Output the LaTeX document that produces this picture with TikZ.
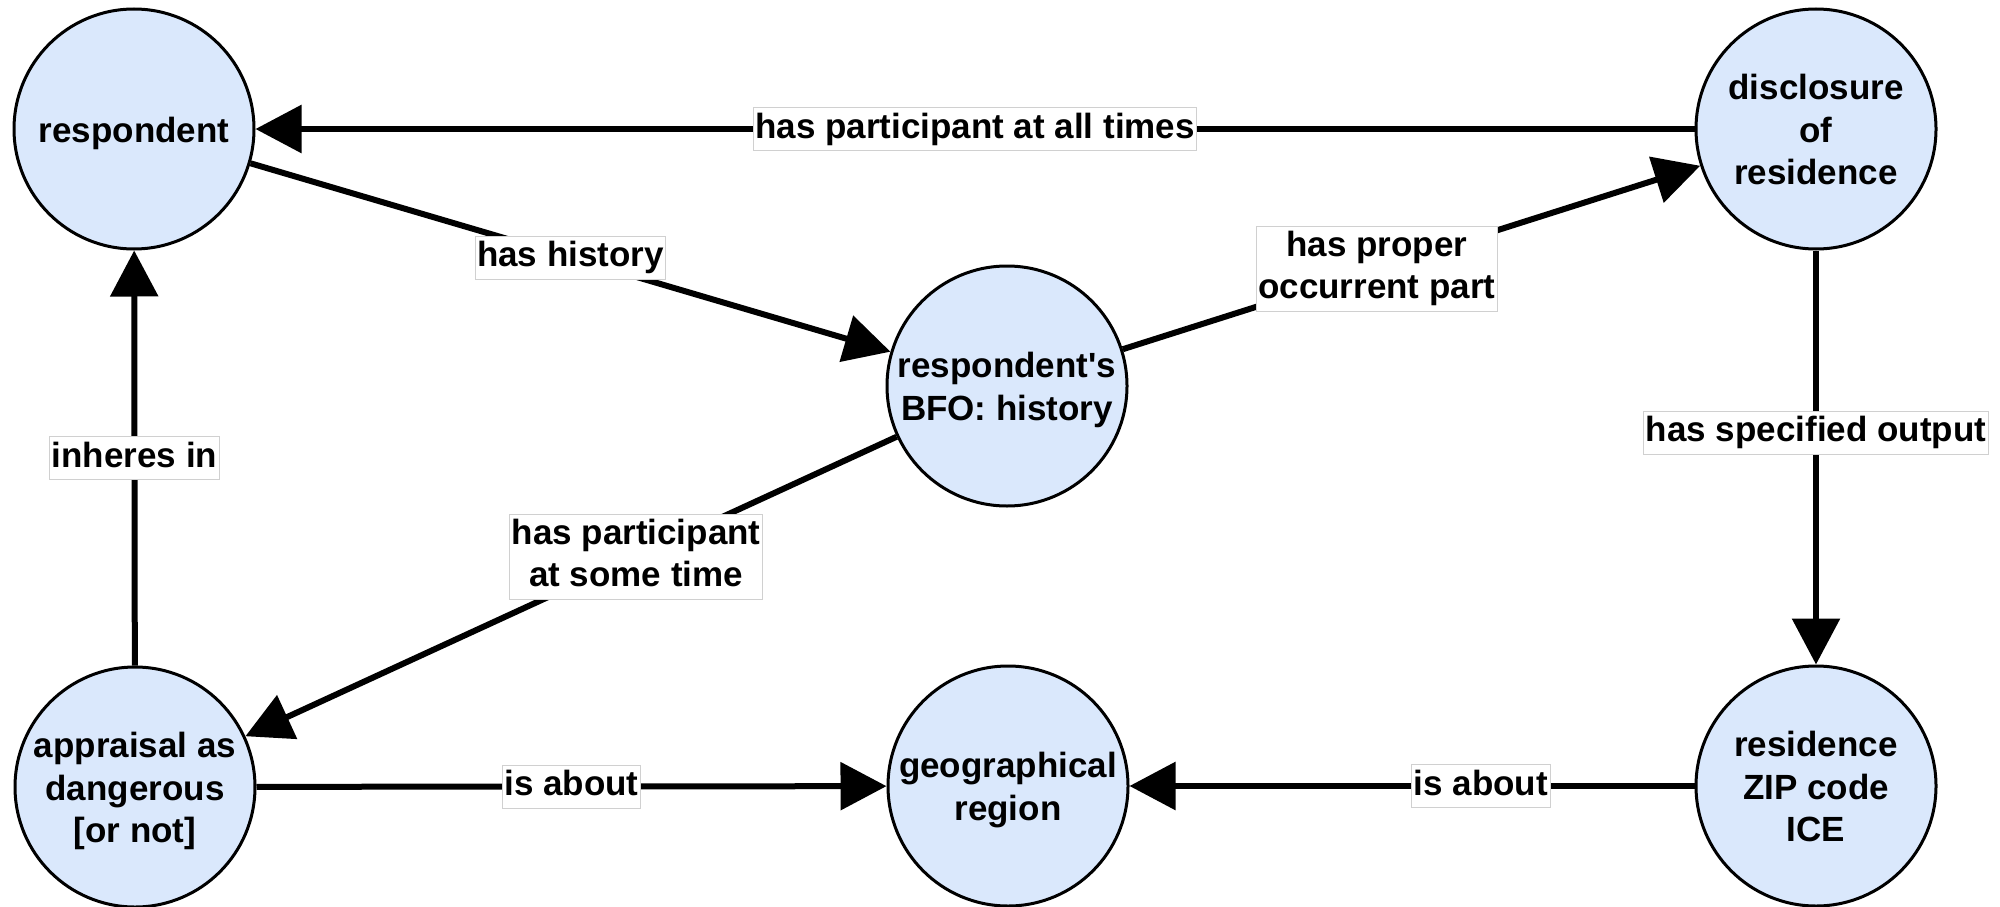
\documentclass[tikz,border=0pt]{standalone}
\usepackage{fontspec}
\setmainfont{Liberation Sans}[Ligatures=TeXOff]
\usetikzlibrary{arrows.meta}
\definecolor{nodefill}{RGB}{218,232,252}
\definecolor{labborder}{RGB}{208,208,208}
\newcommand\lst{\rule[-8pt]{0pt}{34pt}}
\newcommand\lsta{\rule[-8pt]{0pt}{42pt}}
\begin{document}
\begin{tikzpicture}[x=1pt,y=-1pt,
  ent/.style={circle, draw=black, line width=3pt, fill=nodefill, minimum size=240pt,
    inner sep=0pt, align=center, font=\fontsize{35}{42.5}\selectfont\bfseries},
  lab/.style={draw=labborder, line width=1pt, fill=white, inner xsep=2pt, inner ysep=4.5pt,
    align=center, font=\fontsize{35}{42}\selectfont\bfseries},
  rel/.style={line width=6pt, -{Triangle[length=46pt,width=47pt]}}]
\useasboundingbox (0,0) rectangle (2000,907);
\node[ent] (resp) at (134,129) {\lsta respondent};
\node[ent] (disc) at (1816,129) {\lsta disclosure\\\lst of\\\lst residence};
\node[ent] (hist) at (1007,386) {\lsta respondent's\\\lst BFO: history};
\node[ent] (appr) at (135,787) {\lsta appraisal as\\\lst dangerous\\\lst [or not]};
\node[ent] (geo) at (1008,786) {\lsta geographical\\\lst region};
\node[ent] (zip) at (1816,786) {\lsta residence\\\lst ZIP code\\\lst ICE};
\draw[rel] (disc) -- node[lab, pos=0.5] {\lst has participant at all times} (resp);
\draw[rel] (resp) -- node[lab, pos=0.5] {\lst has history} (hist);
\draw[rel] (hist) -- node[lab, pos=0.44] {\lst has proper\\\lst occurrent part} (disc);
\draw[rel] (disc) -- node[lab, pos=0.44] {\lst has specified output} (zip);
\draw[rel] (hist) -- node[lab, pos=0.4] {\lst has participant\\\lst at some time} (appr);
\draw[rel] (appr) -- node[lab, pos=0.5] {\lst inheres in} (resp);
\draw[rel] (appr) -- node[lab, pos=0.5] {\lst is about} (geo);
\draw[rel] (zip) -- node[lab, pos=0.378] {\lst is about} (geo);
\end{tikzpicture}
\end{document}
